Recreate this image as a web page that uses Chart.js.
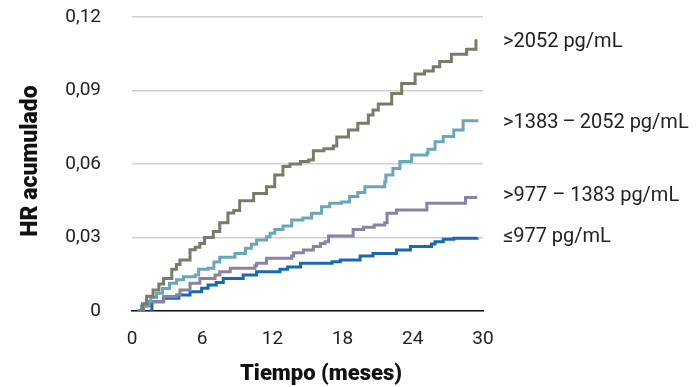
<!DOCTYPE html>
<html>
<head>
<meta charset="utf-8">
<script src="https://cdn.jsdelivr.net/npm/chart.js@4.4.0/dist/chart.umd.min.js"></script>
<style>
  html, body { margin: 0; padding: 0; background: #fff; }
  #wrap { width: 696px; height: 387px; }
</style>
</head>
<body>
<div id="wrap"><canvas id="hr"></canvas></div>
<script>
// [mes, HR acumulado]
const grupoAlto = [[0.5,0],[0.9,0.003],[1.25,0.006],[1.8,0.0086],[2.3,0.011],[2.7,0.0133],[3.4,0.017],[3.8,0.019],[4.1,0.0208],[4.96,0.025],[5.4,0.026],[5.8,0.0276],[6.2,0.030],[6.95,0.0324],[7.5,0.036],[8.2,0.040],[8.7,0.041],[9.2,0.045],[10.4,0.048],[11.5,0.0507],[12.2,0.0555],[12.9,0.059],[13.5,0.060],[14.4,0.061],[15.1,0.0616],[15.5,0.0654],[16.4,0.0662],[17.2,0.0673],[17.5,0.071],[18.5,0.0739],[19.3,0.0766],[20.2,0.080],[20.6,0.082],[21.05,0.0845],[22.2,0.0888],[23.05,0.0929],[24.2,0.0967],[25.0,0.098],[25.75,0.0997],[26.3,0.1018],[27.3,0.1048],[28.6,0.1068],[29.4,0.1109]];
const grupoMedioAlto = [[0.5,0],[0.8,0.002],[1.25,0.0038],[1.6,0.0055],[2.1,0.0072],[2.6,0.0092],[3.2,0.0113],[3.8,0.0128],[4.4,0.014],[5.4,0.0147],[5.7,0.017],[6.5,0.0174],[7.0,0.020],[7.5,0.0219],[8.8,0.0235],[9.7,0.0256],[10.2,0.0272],[10.65,0.029],[11.5,0.0303],[11.8,0.0317],[12.2,0.0333],[12.9,0.0347],[13.65,0.0371],[14.6,0.038],[15.35,0.0399],[16.2,0.0426],[16.9,0.044],[17.9,0.0445],[18.6,0.0467],[19.3,0.0484],[19.9,0.0507],[21.6,0.0528],[21.7,0.0555],[22.3,0.0582],[22.9,0.061],[23.9,0.0637],[25.2,0.0644],[25.3,0.066],[25.9,0.0691],[26.6,0.0712],[27.5,0.0739],[28.3,0.0777],[29.6,0.0777]];
const grupoMedioBajo = [[0.5,0],[1.0,0.002],[1.5,0.0038],[2.7,0.0059],[3.8,0.0065],[4.1,0.0086],[4.96,0.0113],[5.8,0.0133],[7.1,0.0147],[7.5,0.016],[8.4,0.0174],[10.5,0.0185],[10.65,0.0195],[11.5,0.0215],[13.65,0.0224],[13.8,0.0238],[14.65,0.0249],[15.5,0.0263],[16.1,0.0276],[16.5,0.0283],[16.8,0.0306],[18.9,0.0333],[19.8,0.0342],[20.7,0.0351],[21.6,0.036],[21.8,0.0399],[22.6,0.0412],[25.2,0.044],[28.5,0.0463],[29.5,0.0463]];
const grupoBajo = [[1.5,0],[1.7,0.0038],[2.7,0.0052],[4.0,0.0065],[4.96,0.0079],[5.95,0.0093],[6.5,0.0106],[7.2,0.0116],[7.8,0.0133],[9.5,0.0147],[10.65,0.016],[12.65,0.017],[13.3,0.018],[14.4,0.0195],[17.1,0.0201],[17.8,0.0208],[19.5,0.0224],[20.6,0.0235],[22.6,0.0249],[23.8,0.0263],[25.6,0.0273],[25.9,0.0283],[26.6,0.0293],[27.5,0.0297],[29.5,0.030]];

const etiquetas = ['>2052 pg/mL', '>1383\u2009\u2013\u20092052 pg/mL', '>977 \u2013 1383 pg/mL', '\u2264977 pg/mL'];
const colores = ['#797a68', '#6aa6bb', '#8b82a2', '#1769b2'];
const ajusteEtiqueta = [3, 2, -2, -1];
const series = [grupoAlto, grupoMedioAlto, grupoMedioBajo, grupoBajo];

const FONT = 'Roboto, "Liberation Sans", sans-serif';

// etiquetas de grupo a la derecha + títulos de ejes
const extraText = {
  id: 'extraText',
  afterDraw (chart) {
    const { ctx, scales: { y } } = chart;
    ctx.save();
    ctx.font = '20px ' + FONT;
    ctx.fillStyle = '#222';
    ctx.textBaseline = 'middle';
    series.forEach((s, i) => {
      const last = s[s.length - 1][1];
      ctx.fillText(etiquetas[i], 503, y.getPixelForValue(last) + ajusteEtiqueta[i]);
    });

    ctx.fillStyle = '#111';
    ctx.font = '900 22px ' + FONT;
    ctx.textAlign = 'center';
    ctx.textBaseline = 'alphabetic';
    ctx.fillText('Tiempo (meses)', 321, 380);

    ctx.translate(37, 161);
    ctx.rotate(-Math.PI / 2);
    ctx.font = '900 23px ' + FONT;
    ctx.fillText('HR acumulado', 0, 0);
    ctx.restore();
  }
};

new Chart(document.getElementById('hr'), {
  type: 'line',
  data: {
    datasets: series.map((s, i) => ({
      label: etiquetas[i],
      data: s.map(p => ({ x: p[0], y: p[1] })),
      borderColor: colores[i],
      borderWidth: 3,
      pointRadius: 0,
      stepped: true,
      fill: false
    }))
  },
  options: {
    responsive: true,
    maintainAspectRatio: false,
    animation: false,
    layout: { padding: { left: 0, right: 213, top: 0, bottom: 0 } },
    plugins: {
      legend: { display: false },
      tooltip: { enabled: false }
    },
    scales: {
      x: {
        type: 'linear',
        min: 0,
        max: 30,
        afterFit (scale) { scale.height = 76; },
        grid: { display: false, drawTicks: false },
        border: { color: '#111', width: 1.5 },
        ticks: {
          stepSize: 6,
          padding: 17,
          color: '#222',
          font: { family: FONT, size: 19 }
        }
      },
      y: {
        min: 0,
        max: 0.12,
        afterFit (scale) {
          scale.width = 132;
          scale.paddingTop = 17;
          scale.paddingBottom = 0;
        },
        grid: { color: '#d0d0d0', lineWidth: 1.5, drawTicks: false },
        border: { display: false },
        ticks: {
          stepSize: 0.03,
          padding: 31,
          color: '#222',
          font: { family: FONT, size: 19 },
          callback: v => v === 0 ? '0' : v.toFixed(2).replace('.', ',')
        }
      }
    }
  },
  plugins: [extraText]
});
</script>
</body>
</html>
